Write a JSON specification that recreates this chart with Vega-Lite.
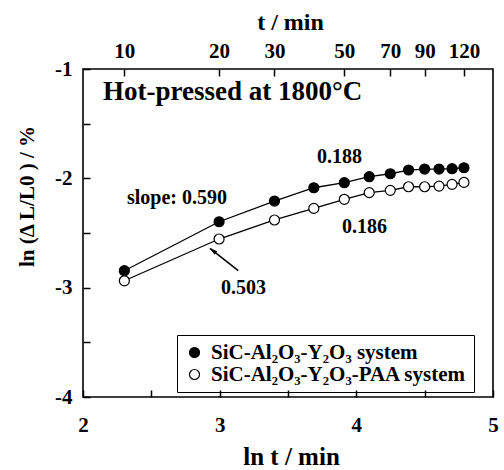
{
  "$schema": "https://vega.github.io/schema/vega-lite/v6.json",
  "width": 410,
  "height": 328,
  "autosize": "none",
  "padding": {"left": 83, "top": 69, "right": 11, "bottom": 73},
  "background": "white",
  "datasets": {
    "pts": [
      {"system": "SiC-Al₂O₃-Y₂O₃ system", "lnt": 2.302585, "y": -2.845},
      {"system": "SiC-Al₂O₃-Y₂O₃ system", "lnt": 2.995732, "y": -2.397},
      {"system": "SiC-Al₂O₃-Y₂O₃ system", "lnt": 3.401197, "y": -2.208},
      {"system": "SiC-Al₂O₃-Y₂O₃ system", "lnt": 3.688879, "y": -2.086},
      {"system": "SiC-Al₂O₃-Y₂O₃ system", "lnt": 3.912023, "y": -2.040},
      {"system": "SiC-Al₂O₃-Y₂O₃ system", "lnt": 4.094345, "y": -1.985},
      {"system": "SiC-Al₂O₃-Y₂O₃ system", "lnt": 4.248495, "y": -1.958},
      {"system": "SiC-Al₂O₃-Y₂O₃ system", "lnt": 4.382027, "y": -1.924},
      {"system": "SiC-Al₂O₃-Y₂O₃ system", "lnt": 4.499810, "y": -1.915},
      {"system": "SiC-Al₂O₃-Y₂O₃ system", "lnt": 4.605170, "y": -1.915},
      {"system": "SiC-Al₂O₃-Y₂O₃ system", "lnt": 4.700480, "y": -1.912},
      {"system": "SiC-Al₂O₃-Y₂O₃ system", "lnt": 4.787492, "y": -1.903},
      {"system": "SiC-Al₂O₃-Y₂O₃-PAA system", "lnt": 2.302585, "y": -2.937},
      {"system": "SiC-Al₂O₃-Y₂O₃-PAA system", "lnt": 2.995732, "y": -2.555},
      {"system": "SiC-Al₂O₃-Y₂O₃-PAA system", "lnt": 3.401197, "y": -2.381},
      {"system": "SiC-Al₂O₃-Y₂O₃-PAA system", "lnt": 3.688879, "y": -2.275},
      {"system": "SiC-Al₂O₃-Y₂O₃-PAA system", "lnt": 3.912023, "y": -2.192},
      {"system": "SiC-Al₂O₃-Y₂O₃-PAA system", "lnt": 4.094345, "y": -2.131},
      {"system": "SiC-Al₂O₃-Y₂O₃-PAA system", "lnt": 4.248495, "y": -2.110},
      {"system": "SiC-Al₂O₃-Y₂O₃-PAA system", "lnt": 4.382027, "y": -2.077},
      {"system": "SiC-Al₂O₃-Y₂O₃-PAA system", "lnt": 4.499810, "y": -2.077},
      {"system": "SiC-Al₂O₃-Y₂O₃-PAA system", "lnt": 4.605170, "y": -2.071},
      {"system": "SiC-Al₂O₃-Y₂O₃-PAA system", "lnt": 4.700480, "y": -2.055},
      {"system": "SiC-Al₂O₃-Y₂O₃-PAA system", "lnt": 4.787492, "y": -2.037}
    ],
    "labels": [
      {"label": "slope: 0.590", "lnt": 2.322, "y": -2.180},
      {"label": "0.188", "lnt": 3.712, "y": -1.805},
      {"label": "0.186", "lnt": 3.895, "y": -2.446},
      {"label": "0.503", "lnt": 3.009, "y": -3.004}
    ],
    "arrow": [
      {"x1": 3.136, "y1": -2.845, "x2": 2.929, "y2": -2.640}
    ],
    "note": [
      {"label": "Hot-pressed at 1800°C", "lnt": 2.146, "y": -1.206}
    ]
  },
  "resolve": {"axis": {"x": "independent"}},
  "layer": [
    {
      "data": {"name": "pts"},
      "mark": {"type": "line", "color": "black", "strokeWidth": 1.3},
      "encoding": {
        "x": {
          "field": "lnt", "type": "quantitative",
          "scale": {"domain": [2, 5], "nice": false, "zero": false},
          "axis": {
            "orient": "bottom",
            "offset": -7,
            "values": [2, 2.5, 3, 3.5, 4, 4.5, 5],
            "labelExpr": "datum.value % 1 === 0 ? format(datum.value, 'd') : ''",
            "labelOverlap": false,
            "labelFlush": false,
            "labelBound": false,
            "labelPadding": 17,
            "labelBaseline": "top",
            "title": "ln t  / min",
            "titleFontSize": 25,
            "titleX": 208,
            "titleY": 74,
            "titleAlign": "center",
            "titleBaseline": "alphabetic"
          }
        },
        "y": {
          "field": "y", "type": "quantitative",
          "scale": {"domain": [-4, -1], "nice": false, "zero": false},
          "axis": {
            "offset": -7,
            "values": [-4, -3.5, -3, -2.5, -2, -1.5, -1],
            "labelExpr": "datum.value % 1 === 0 ? '' + datum.value : ''",
            "labelOverlap": false,
            "labelFlush": false,
            "labelBound": false,
            "labelPadding": 11,
            "labelBaseline": "middle",
            "title": "ln (Δ L/L0 ) / %",
            "titleFontSize": 21,
            "titleAngle": -90,
            "titleX": -63,
            "titleY": 127,
            "titleAlign": "center",
            "titleBaseline": "middle"
          }
        },
        "detail": {"field": "system", "type": "nominal"}
      }
    },
    {
      "data": {"name": "pts"},
      "mark": {"type": "point", "shape": "circle", "filled": true, "stroke": "black", "strokeWidth": 1.2, "size": 100, "opacity": 1},
      "encoding": {
        "x": {
          "field": "lnt", "type": "quantitative",
          "axis": {
            "orient": "top",
            "offset": -7,
            "values": [2.302585, 2.995732, 3.401197, 3.912023, 4.248495, 4.49981, 4.787492],
            "labelExpr": "format(exp(datum.value), '.0f')",
            "labelOverlap": false,
            "labelFlush": false,
            "labelBound": false,
            "labelPadding": 12,
            "labelBaseline": "alphabetic",
            "title": "t  / min",
            "titleX": 207,
            "titleY": -47,
            "titleAlign": "center",
            "titleBaseline": "alphabetic"
          }
        },
        "y": {"field": "y", "type": "quantitative"},
        "fill": {
          "field": "system", "type": "nominal",
          "scale": {"domain": ["SiC-Al₂O₃-Y₂O₃ system", "SiC-Al₂O₃-Y₂O₃-PAA system"], "range": ["black", "white"]},
          "legend": {
            "orient": "none",
            "legendX": 94,
            "legendY": 266,
            "title": null,
            "strokeColor": "black",
            "padding": 7,
            "rowPadding": 0,
            "labelFont": "Liberation Serif",
            "labelFontSize": 21,
            "labelFontWeight": "bold",
            "labelColor": "black",
            "labelLimit": 400,
            "labelOffset": 6,
            "symbolType": "circle",
            "symbolSize": 100,
            "symbolStrokeColor": "black",
            "symbolStrokeWidth": 1.2,
            "symbolOpacity": 1,
            "cornerRadius": 0
          }
        }
      }
    },
    {
      "data": {"name": "arrow"},
      "mark": {"type": "rule", "color": "black", "strokeWidth": 1.6},
      "encoding": {
        "x": {"field": "x1", "type": "quantitative", "axis": null},
        "y": {"field": "y1", "type": "quantitative"},
        "x2": {"field": "x2"},
        "y2": {"field": "y2"}
      }
    },
    {
      "data": {"name": "arrow"},
      "mark": {"type": "point", "shape": "M0,0L0.45,1.6L-0.45,1.6Z", "filled": true, "color": "black", "size": 90, "angle": 308, "opacity": 1},
      "encoding": {
        "x": {"field": "x2", "type": "quantitative", "axis": null},
        "y": {"field": "y2", "type": "quantitative"}
      }
    },
    {
      "data": {"name": "labels"},
      "mark": {"type": "text", "align": "left", "baseline": "middle", "font": "Liberation Serif", "fontWeight": "bold", "fontSize": 20, "color": "black"},
      "encoding": {
        "x": {"field": "lnt", "type": "quantitative", "axis": null},
        "y": {"field": "y", "type": "quantitative"},
        "text": {"field": "label"}
      }
    },
    {
      "data": {"name": "note"},
      "mark": {"type": "text", "align": "left", "baseline": "middle", "font": "Liberation Serif", "fontWeight": "bold", "fontSize": 27, "color": "black"},
      "encoding": {
        "x": {"field": "lnt", "type": "quantitative", "axis": null},
        "y": {"field": "y", "type": "quantitative"},
        "text": {"field": "label"}
      }
    }
  ],
  "config": {
    "view": {"stroke": "black", "strokeWidth": 1.6},
    "axis": {
      "domain": false,
      "grid": false,
      "ticks": true,
      "tickSize": 7,
      "tickColor": "black",
      "tickWidth": 1.5,
      "tickOpacity": 1,
      "labelFont": "Liberation Serif",
      "labelFontWeight": "bold",
      "labelFontSize": 21,
      "labelColor": "black",
      "titleFont": "Liberation Serif",
      "titleFontWeight": "bold",
      "titleFontSize": 24,
      "titleColor": "black"
    }
  }
}
